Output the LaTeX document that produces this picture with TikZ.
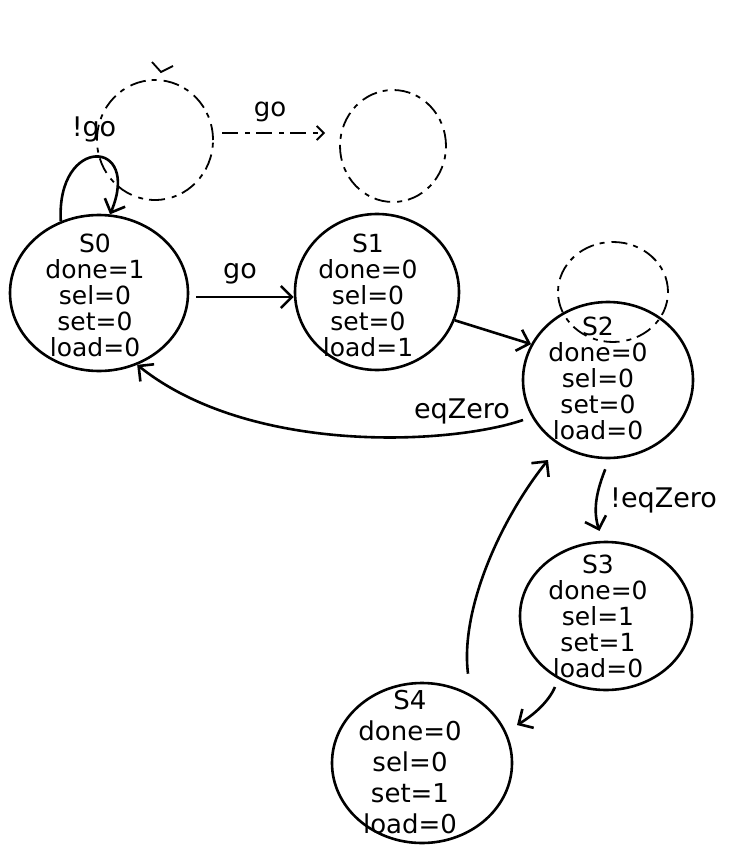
\documentclass[tikz,border=0pt]{standalone}
\usepackage{fontspec}
\setmainfont{DejaVu Sans}
\usetikzlibrary{shapes.geometric,arrows.meta}
\tikzset{
  state/.style={draw, ellipse, line width=2.6pt, inner sep=0pt},
  statetext/.style={align=center, font=\fontsize{25}{26}\selectfont, inner sep=0pt},
  lbl/.style={font=\fontsize{27}{28}\selectfont, inner sep=0pt},
  arr/.style={line width=2.6pt, -{Straight Barb[length=11pt,width=22pt,line width=2.6pt]}},
  ghost/.style={line width=1.8pt, dash pattern=on 16pt off 7pt on 5pt off 6pt},
  ghostlbl/.style={font=\fontsize{26}{28}\selectfont, inner sep=0pt},
}
\begin{document}
\begin{tikzpicture}[x=1pt,y=-1pt]
\useasboundingbox (0,0) rectangle (736,848);
% faint erased remnants
\node[ghost, draw, ellipse, minimum width=116pt, minimum height=120pt] (g0) at (155,140) {};
\node[ghost, draw, ellipse, minimum width=106pt, minimum height=112pt] (g1) at (393,146) {};
\node[ghost, draw, ellipse, minimum width=110pt, minimum height=100pt] (g2) at (613,292) {};
\coordinate (ga) at (222,133);
\coordinate (gb) at (325,133);
\draw[ghost, -{Straight Barb[length=7pt,width=14pt,line width=1.8pt]}] (ga) -- (gb);
\node[ghostlbl] (ggo) at (270,112) {go};
\coordinate (gt1) at (152,62);
\coordinate (gt2) at (161,72);
\coordinate (gt3) at (173,66);
\draw[line width=1.8pt] (gt1) -- (gt2) -- (gt3);
% states
\node[state, minimum width=178pt, minimum height=156pt] (s0) at (99,293) {};
\node[statetext] (s0t) at (95,295) {S0\\done=1\\sel=0\\set=0\\load=0};
\node[state, minimum width=164pt, minimum height=156pt] (s1) at (377,292) {};
\node[statetext] (s1t) at (368,295) {S1\\done=0\\sel=0\\set=0\\load=1};
\node[state, minimum width=170pt, minimum height=156pt] (s2) at (608,380) {};
\node[statetext] (s2t) at (598,378) {S2\\done=0\\sel=0\\set=0\\load=0};
\node[state, minimum width=172pt, minimum height=148pt] (s3) at (606,616) {};
\node[statetext] (s3t) at (598,616) {S3\\done=0\\sel=1\\set=1\\load=0};
\node[state, minimum width=180pt, minimum height=160pt] (s4) at (422,763) {};
\node[statetext, font=\fontsize{26}{31}\selectfont] (s4t) at (410,762) {S4\\done=0\\sel=0\\set=1\\load=0};
% transitions
\draw[arr] ([xshift=7pt,yshift=-4pt]s0.east) -- ([yshift=-5pt]s1.west);
\node[lbl] (lgo) at (240,274) {go};
\draw[arr] (s1.-20) -- (s2.155);
\draw[arr] ([xshift=-85pt,yshift=-40pt]s2.center) .. controls (450,445) and (250,455) .. (s0.-62);
\node[lbl] (leq) at (462,411) {eqZero};
\draw[arr] ([yshift=-10pt]s2.268) .. controls (598,488) and (592,508) .. ([yshift=10pt]s3.95);
\node[lbl, anchor=west] (lneq) at (610,500) {!eqZero};
\draw[arr] ([xshift=-51pt,yshift=-71pt]s3.center) .. controls (548,703) and (532,716) .. ([xshift=95pt,yshift=38pt]s4.center);
\draw[arr] ([xshift=46pt,yshift=8pt]s4.north) .. controls (460,610) and (500,520) .. ([xshift=-60pt,yshift=-80pt]s2.center);
\draw[arr] (s0.118) .. controls (56,135) and (142,138) .. (s0.82);
\node[lbl] (lngo) at (94,129) {!go};
\end{tikzpicture}
\end{document}
